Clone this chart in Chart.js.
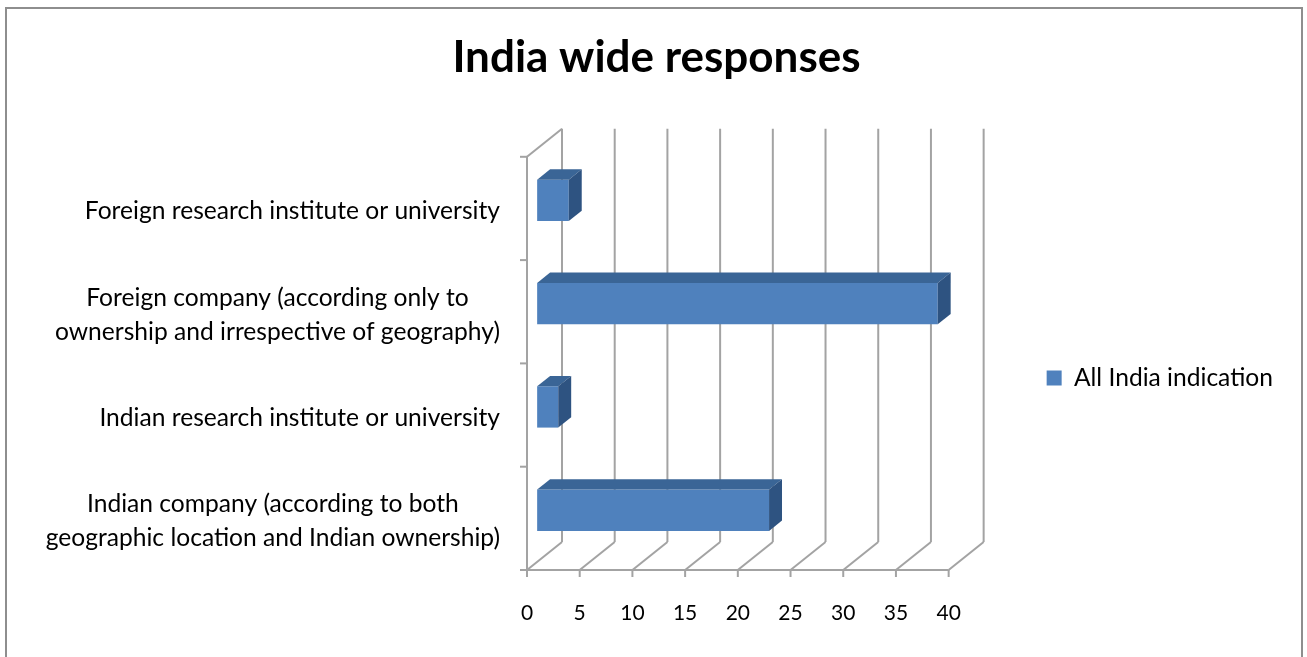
<!DOCTYPE html>
<html lang="en">
<head>
<meta charset="UTF-8">
<title>India wide responses</title>
<style>
  body { margin: 0; background: #fff; }
  #wrap { width: 1307px; height: 657px; }
</style>
</head>
<body>
<div id="wrap"><canvas id="chart" width="1307" height="657"></canvas></div>
<script src="https://cdn.jsdelivr.net/npm/chart.js"></script>
<script>
// data
const categories = [
    'Foreign research institute or university',
    ['Foreign company (according only to', 'ownership and irrespective of geography)'],
    'Indian research institute or university',
    ['Indian company (according to both', 'geographic location and Indian ownership)']
];
const values = [3, 38, 2, 22];
const seriesName = 'All India indication';
const xMin = 0, xMax = 40, xStep = 5;

const FONT = 'Lato, Calibri, sans-serif';
const LABEL_SIZE = 24.6;
const GRID = '#a3a3a3';
const DX = 35, DY = -28;            // depth of the 3d box
const BAR_FRONT = 0.29, BAR_BACK = 0.66;  // where the bars sit in the depth

function line(ctx, x1, y1, x2, y2) {
    ctx.beginPath();
    ctx.moveTo(x1, y1);
    ctx.lineTo(x2, y2);
    ctx.stroke();
}

const box3d = {
    id: 'box3d',
    beforeDraw(chart) {
        const ctx = chart.ctx;
        ctx.save();
        ctx.fillStyle = '#fff';
        ctx.fillRect(0, 0, chart.width, chart.height);
        ctx.strokeStyle = '#8e8e8e';
        ctx.lineWidth = 2;
        ctx.strokeRect(6, 8, 1296, 700);
        ctx.restore();
    },
    beforeDatasetsDraw(chart) {
        const ctx = chart.ctx;
        const {left, right, top, bottom} = chart.chartArea;
        const xs = chart.scales.x;
        ctx.save();
        ctx.strokeStyle = GRID;
        ctx.lineWidth = 2;
        xs.ticks.forEach(t => {
            const px = xs.getPixelForValue(t.value);
            line(ctx, px + DX, top + DY, px + DX, bottom + DY);   // back wall
            line(ctx, px, bottom, px + DX, bottom + DY);          // floor
            line(ctx, px, bottom, px, bottom + 7);                // tick
        });
        line(ctx, left - 7, bottom, right, bottom);
        line(ctx, left, top, left, bottom);
        line(ctx, left, top, left + DX, top + DY);
        const step = (bottom - top) / categories.length;
        for (let i = 0; i <= categories.length; i++) {
            const yb = top + i * step;
            line(ctx, left - 7, yb, left, yb);
        }
        ctx.restore();
        // push the bars back into the box
        ctx.save();
        ctx.translate(DX * BAR_FRONT, DY * BAR_FRONT);
    },
    afterDatasetsDraw(chart) {
        const ctx = chart.ctx;
        ctx.restore();
        const fx = DX * BAR_FRONT, fy = DY * BAR_FRONT;
        const bx = DX * BAR_BACK, by = DY * BAR_BACK;
        ctx.save();
        chart.getDatasetMeta(0).data.forEach(bar => {
            const {x, y, base, height} = bar.getProps(['x', 'y', 'base', 'height'], true);
            const t = y - height / 2, b = y + height / 2;
            ctx.fillStyle = '#3a6596';
            ctx.beginPath();
            ctx.moveTo(base + fx, t + fy);
            ctx.lineTo(x + fx, t + fy);
            ctx.lineTo(x + bx, t + by);
            ctx.lineTo(base + bx, t + by);
            ctx.closePath();
            ctx.fill();
            ctx.fillStyle = '#2e5381';
            ctx.beginPath();
            ctx.moveTo(x + fx, t + fy);
            ctx.lineTo(x + bx, t + by);
            ctx.lineTo(x + bx, b + by);
            ctx.lineTo(x + fx, b + fy);
            ctx.closePath();
            ctx.fill();
        });
        ctx.restore();
    },
    afterDraw(chart) {
        // category labels: right aligned block, lines centred inside it
        const ctx = chart.ctx;
        const ys = chart.scales.y;
        const right = chart.chartArea.left - 27;
        ctx.save();
        ctx.font = LABEL_SIZE + 'px ' + FONT;
        ctx.fillStyle = '#000';
        ctx.textAlign = 'center';
        ctx.textBaseline = 'middle';
        categories.forEach((c, i) => {
            const lines = Array.isArray(c) ? c : [c];
            const w = Math.max(...lines.map(s => ctx.measureText(s).width));
            const cx = right - w / 2;
            const cy = ys.getPixelForValue(i) + 3;
            lines.forEach((s, j) => {
                ctx.fillText(s, cx, cy + (j - (lines.length - 1) / 2) * 34);
            });
        });
        ctx.restore();
    }
};

new Chart(document.getElementById('chart'), {
    type: 'bar',
    data: {
        labels: categories,
        datasets: [{
            label: seriesName,
            data: values,
            backgroundColor: '#4f81bd',
            borderWidth: 0,
            categoryPercentage: 1,
            barPercentage: 0.4,
            clip: false
        }]
    },
    options: {
        indexAxis: 'y',
        responsive: false,
        animation: false,
        layout: {
            padding: {left: 30, right: 24, top: 0, bottom: 10}
        },
        plugins: {
            title: {
                display: true,
                text: 'India wide responses',
                color: '#000',
                font: {family: FONT, size: 44, weight: 'bold'},
                padding: {top: 31, bottom: 73}
            },
            legend: {
                position: 'right',
                fullSize: false,
                align: 'center',
                maxWidth: 400,
                title: {display: true, text: '', padding: {top: 15, bottom: 0}, font: {size: 12}},
                labels: {
                    boxWidth: 15,
                    boxHeight: 15,
                    padding: 98,
                    color: '#000',
                    font: {family: FONT, size: LABEL_SIZE}
                }
            },
            tooltip: {enabled: false}
        },
        scales: {
            x: {
                min: xMin,
                max: xMax,
                grid: {display: false, drawTicks: false},
                border: {display: false},
                ticks: {
                    stepSize: xStep,
                    padding: 31,
                    color: '#000',
                    font: {family: FONT, size: 21}
                },
                afterFit(s) { s.height = 77; }
            },
            y: {
                grid: {display: false},
                border: {display: false},
                ticks: {display: false},
                afterFit(s) { s.width = 527 - 30; }
            }
        }
    },
    plugins: [box3d]
});
</script>
</body>
</html>
